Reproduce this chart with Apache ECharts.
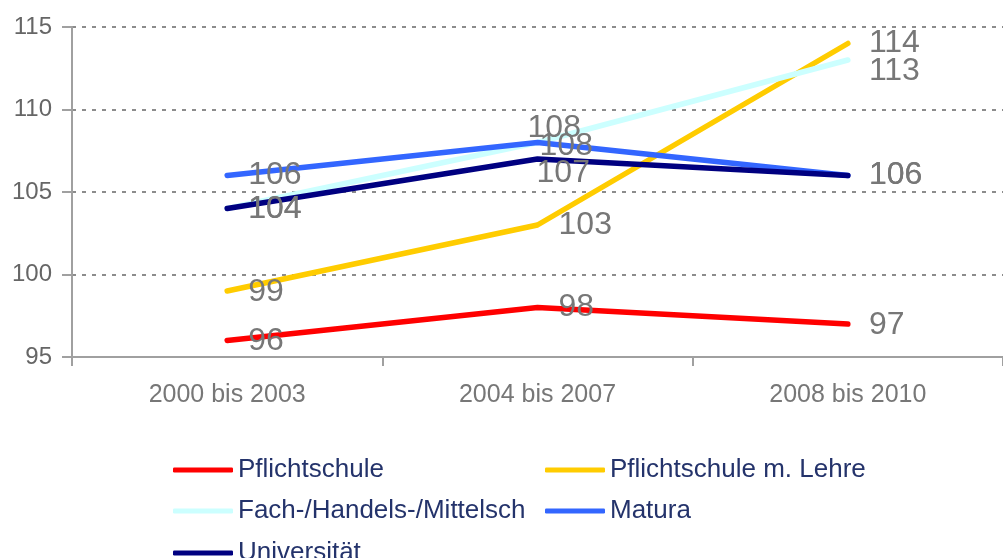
<!DOCTYPE html>
<html lang="de">
<head>
    <meta charset="UTF-8">
    <title>Index nach Ausbildung</title>
    <script src="https://cdn.jsdelivr.net/npm/echarts@6/dist/echarts.min.js"></script>
    <style>
        html, body { margin: 0; padding: 0; background: #ffffff; }
        #chart { width: 1003px; height: 558px; }
    </style>
</head>
<body>
<div id="chart"></div>
<script>
    // Daten
    const periods = ["2000 bis 2003", "2004 bis 2007", "2008 bis 2010"];
    const seriesNames = ["Pflichtschule", "Pflichtschule m. Lehre", "Fach-/Handels-/Mittelsch", "Matura", "Universität"];
    const pflichtschule = [96, 98, 97];
    const lehre = [99, 103, 114];
    const fachschule = [104, 108, 113];
    const matura = [106, 108, 106];
    const universitaet = [104, 107, 106];

    const values = [pflichtschule, lehre, fachschule, matura, universitaet];
    const colors = ["#ff0000", "#ffcc00", "#ccffff", "#3366ff", "#000080"];
    // label offsets per series / point (to avoid overlapping labels)
    const labelOffsets = [
        [[0, 1], [0, 0], [0, 1]],
        [[0, 1], [0, 0], [0, 0]],
        [[0, 1], [-31, -14], [0, 11]],
        [[0, 0], [-19, 4], [0, 0]],
        [[0, 1], [-22, 14], [0, 0]]
    ];
    // legend positions: [left, top]
    const legendPos = [[168, 452], [540, 452], [168, 493], [540, 493], [168, 535]];
    const font = "'Liberation Sans', Arial, sans-serif";

    const chart = echarts.init(document.getElementById('chart'));

    let series = [];
    let legends = [];
    for (let s = 0; s < seriesNames.length; s++) {
        series.push({
            name: seriesNames[s],
            type: 'line',
            data: values[s].map(function (v, i) {
                return {value: v, label: {offset: labelOffsets[s][i]}};
            }),
            showSymbol: true,
            symbol: 'circle',
            symbolSize: 0.1,
            color: colors[s],
            lineStyle: {width: 5.5, color: colors[s], cap: 'round', join: 'round'},
            label: {
                show: true,
                position: 'right',
                distance: 21,
                color: '#777777',
                fontSize: 32,
                fontFamily: font
            },
            emphasis: {disabled: true},
            animation: false
        });
        legends.push({
            left: legendPos[s][0],
            top: legendPos[s][1],
            data: [seriesNames[s]],
            icon: 'roundRect',
            itemWidth: 60,
            itemHeight: 5,
            textStyle: {color: '#24336b', fontSize: 26, fontFamily: font},
            selectedMode: false
        });
    }

    chart.setOption({
        backgroundColor: '#ffffff',
        grid: {left: 72, right: 0, top: 27, height: 330},
        xAxis: {
            type: 'category',
            data: periods,
            boundaryGap: true,
            axisLine: {lineStyle: {color: '#a0a0a0', width: 2}},
            axisTick: {show: true, length: 9, lineStyle: {color: '#a0a0a0', width: 2}},
            axisLabel: {color: '#777777', fontSize: 25, fontFamily: font, margin: 26}
        },
        yAxis: {
            type: 'value',
            min: 95,
            max: 115,
            interval: 5,
            axisLine: {show: true, lineStyle: {color: '#a0a0a0', width: 2}},
            axisTick: {show: true, length: 10, lineStyle: {color: '#a0a0a0', width: 2}},
            axisLabel: {color: '#666666', fontSize: 24, fontFamily: font, margin: 20},
            splitLine: {show: true, lineStyle: {color: '#8c8c8c', width: 2, type: [4, 6]}}
        },
        legend: legends,
        series: series
    });
</script>
</body>
</html>
